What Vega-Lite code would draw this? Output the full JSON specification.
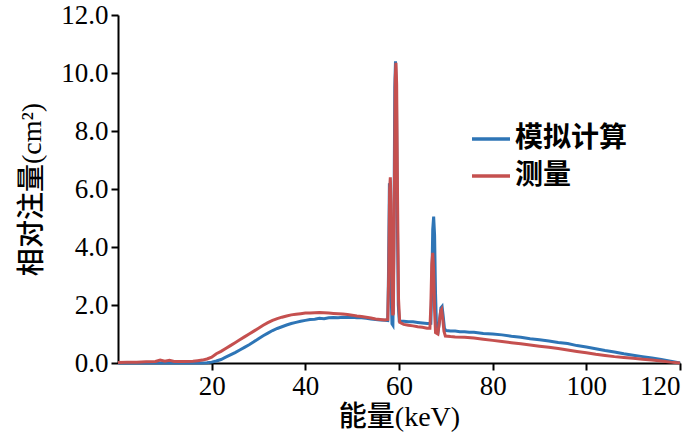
{
  "$schema": "https://vega.github.io/schema/vega-lite/v6.json",
  "width": 562,
  "height": 348,
  "autosize": "none",
  "padding": {"left": 118, "top": 15, "right": 20, "bottom": 80},
  "background": "white",
  "datasets": {
    "sim": [
      {"e": 0, "v": 0}, {"e": 5, "v": 0}, {"e": 10, "v": 0}, {"e": 15, "v": 0},
      {"e": 18, "v": 0}, {"e": 19, "v": 0.01}, {"e": 20, "v": 0.03}, {"e": 21, "v": 0.07},
      {"e": 22, "v": 0.12}, {"e": 23, "v": 0.2}, {"e": 24, "v": 0.28}, {"e": 25, "v": 0.36},
      {"e": 26, "v": 0.45}, {"e": 27, "v": 0.54}, {"e": 28, "v": 0.63}, {"e": 29, "v": 0.73},
      {"e": 30, "v": 0.84}, {"e": 31, "v": 0.94}, {"e": 32, "v": 1.03}, {"e": 33, "v": 1.12},
      {"e": 34, "v": 1.19}, {"e": 35, "v": 1.25}, {"e": 36, "v": 1.31}, {"e": 37, "v": 1.36},
      {"e": 38, "v": 1.4}, {"e": 39, "v": 1.44}, {"e": 40, "v": 1.47}, {"e": 41, "v": 1.5},
      {"e": 42, "v": 1.51}, {"e": 43, "v": 1.54}, {"e": 44, "v": 1.53}, {"e": 45, "v": 1.56},
      {"e": 46, "v": 1.57}, {"e": 47, "v": 1.56}, {"e": 48, "v": 1.58}, {"e": 49, "v": 1.57},
      {"e": 50, "v": 1.58}, {"e": 51, "v": 1.56}, {"e": 52, "v": 1.56}, {"e": 53, "v": 1.54},
      {"e": 54, "v": 1.52}, {"e": 55, "v": 1.5}, {"e": 56, "v": 1.48}, {"e": 57, "v": 1.47},
      {"e": 57.6, "v": 1.46}, {"e": 57.75, "v": 3.0}, {"e": 57.95, "v": 6.2}, {"e": 58.1, "v": 6.0},
      {"e": 58.3, "v": 2.5}, {"e": 58.5, "v": 1.35}, {"e": 58.7, "v": 1.3}, {"e": 58.9, "v": 4.0},
      {"e": 59.1, "v": 9.5}, {"e": 59.25, "v": 10.4}, {"e": 59.45, "v": 9.3}, {"e": 59.65, "v": 5.0},
      {"e": 59.85, "v": 2.0}, {"e": 60.05, "v": 1.45}, {"e": 61, "v": 1.44}, {"e": 62, "v": 1.42},
      {"e": 63, "v": 1.42}, {"e": 64, "v": 1.4}, {"e": 65, "v": 1.38}, {"e": 66, "v": 1.36},
      {"e": 66.8, "v": 1.37}, {"e": 67.0, "v": 2.6}, {"e": 67.2, "v": 4.6}, {"e": 67.4, "v": 5.05},
      {"e": 67.6, "v": 4.4}, {"e": 67.8, "v": 2.4}, {"e": 68.0, "v": 1.3}, {"e": 68.4, "v": 1.15},
      {"e": 68.7, "v": 1.5}, {"e": 68.95, "v": 1.9}, {"e": 69.2, "v": 1.95}, {"e": 69.45, "v": 1.6},
      {"e": 69.7, "v": 1.2}, {"e": 70, "v": 1.12}, {"e": 71, "v": 1.1}, {"e": 72, "v": 1.1},
      {"e": 73, "v": 1.08}, {"e": 74, "v": 1.08}, {"e": 75, "v": 1.06}, {"e": 76, "v": 1.06},
      {"e": 78, "v": 1.02}, {"e": 80, "v": 1.0}, {"e": 82, "v": 0.97}, {"e": 84, "v": 0.92},
      {"e": 86, "v": 0.89}, {"e": 88, "v": 0.84}, {"e": 90, "v": 0.8}, {"e": 92, "v": 0.76},
      {"e": 94, "v": 0.71}, {"e": 96, "v": 0.67}, {"e": 98, "v": 0.6}, {"e": 100, "v": 0.55},
      {"e": 102, "v": 0.49}, {"e": 104, "v": 0.43}, {"e": 106, "v": 0.38}, {"e": 108, "v": 0.32},
      {"e": 110, "v": 0.27}, {"e": 112, "v": 0.22}, {"e": 114, "v": 0.17}, {"e": 116, "v": 0.12},
      {"e": 118, "v": 0.06}, {"e": 120, "v": 0.0}
    ],
    "meas": [
      {"e": 0, "v": 0.02}, {"e": 2, "v": 0.03}, {"e": 4, "v": 0.03}, {"e": 6, "v": 0.04},
      {"e": 8, "v": 0.05}, {"e": 9, "v": 0.1}, {"e": 10, "v": 0.06}, {"e": 11, "v": 0.09},
      {"e": 12, "v": 0.05}, {"e": 14, "v": 0.05}, {"e": 16, "v": 0.06}, {"e": 17, "v": 0.08},
      {"e": 18, "v": 0.1}, {"e": 19, "v": 0.14}, {"e": 20, "v": 0.2}, {"e": 21, "v": 0.32},
      {"e": 22, "v": 0.4}, {"e": 23, "v": 0.5}, {"e": 24, "v": 0.6}, {"e": 25, "v": 0.7},
      {"e": 26, "v": 0.8}, {"e": 27, "v": 0.9}, {"e": 28, "v": 1.0}, {"e": 29, "v": 1.1},
      {"e": 30, "v": 1.2}, {"e": 31, "v": 1.3}, {"e": 32, "v": 1.39}, {"e": 33, "v": 1.47},
      {"e": 34, "v": 1.53}, {"e": 35, "v": 1.58}, {"e": 36, "v": 1.62}, {"e": 37, "v": 1.66},
      {"e": 38, "v": 1.68}, {"e": 39, "v": 1.7}, {"e": 40, "v": 1.72}, {"e": 41, "v": 1.72},
      {"e": 42, "v": 1.73}, {"e": 43, "v": 1.74}, {"e": 44, "v": 1.73}, {"e": 45, "v": 1.72},
      {"e": 46, "v": 1.71}, {"e": 47, "v": 1.7}, {"e": 48, "v": 1.69}, {"e": 49, "v": 1.67},
      {"e": 50, "v": 1.65}, {"e": 51, "v": 1.62}, {"e": 52, "v": 1.6}, {"e": 53, "v": 1.58},
      {"e": 54, "v": 1.55}, {"e": 55, "v": 1.52}, {"e": 56, "v": 1.5}, {"e": 57, "v": 1.48},
      {"e": 57.6, "v": 1.5}, {"e": 57.8, "v": 3.0}, {"e": 58.0, "v": 6.0}, {"e": 58.15, "v": 6.4},
      {"e": 58.3, "v": 5.5}, {"e": 58.5, "v": 2.5}, {"e": 58.65, "v": 1.65}, {"e": 58.8, "v": 1.7},
      {"e": 59.0, "v": 5.5}, {"e": 59.2, "v": 9.8}, {"e": 59.35, "v": 10.35}, {"e": 59.5, "v": 9.6},
      {"e": 59.7, "v": 5.5}, {"e": 59.9, "v": 2.2}, {"e": 60.15, "v": 1.4}, {"e": 61, "v": 1.33},
      {"e": 62, "v": 1.3}, {"e": 63, "v": 1.28}, {"e": 64, "v": 1.25}, {"e": 65, "v": 1.23},
      {"e": 66, "v": 1.2}, {"e": 66.6, "v": 1.2}, {"e": 66.8, "v": 2.0}, {"e": 67.0, "v": 3.4},
      {"e": 67.2, "v": 3.8}, {"e": 67.4, "v": 3.2}, {"e": 67.6, "v": 1.8}, {"e": 67.8, "v": 1.05},
      {"e": 68.3, "v": 1.0}, {"e": 68.6, "v": 1.4}, {"e": 68.9, "v": 1.8}, {"e": 69.1, "v": 1.85},
      {"e": 69.35, "v": 1.5}, {"e": 69.6, "v": 1.1}, {"e": 69.9, "v": 0.93}, {"e": 71, "v": 0.91},
      {"e": 72, "v": 0.9}, {"e": 74, "v": 0.89}, {"e": 76, "v": 0.86}, {"e": 78, "v": 0.82},
      {"e": 80, "v": 0.78}, {"e": 82, "v": 0.74}, {"e": 84, "v": 0.7}, {"e": 86, "v": 0.66},
      {"e": 88, "v": 0.62}, {"e": 90, "v": 0.58}, {"e": 92, "v": 0.54}, {"e": 94, "v": 0.5},
      {"e": 96, "v": 0.45}, {"e": 98, "v": 0.4}, {"e": 100, "v": 0.35}, {"e": 102, "v": 0.3},
      {"e": 104, "v": 0.26}, {"e": 106, "v": 0.22}, {"e": 108, "v": 0.19}, {"e": 110, "v": 0.16},
      {"e": 112, "v": 0.13}, {"e": 114, "v": 0.1}, {"e": 116, "v": 0.07}, {"e": 118, "v": 0.03},
      {"e": 120, "v": 0.0}
    ]
  },
  "encoding": {
    "x": {
      "field": "e",
      "type": "quantitative",
      "scale": {"domain": [0, 120], "nice": false},
      "axis": {
        "values": [20, 40, 60, 80, 100, 120],
        "title": "能量(keV)",
        "titlePadding": 4
      }
    },
    "y": {
      "field": "v",
      "type": "quantitative",
      "scale": {"domain": [0, 12], "nice": false},
      "axis": {
        "values": [0, 2, 4, 6, 8, 10, 12],
        "format": ".1f",
        "title": "相对注量(cm²)",
        "titlePadding": 14
      }
    }
  },
  "layer": [
    {
      "data": {"name": "sim"},
      "mark": {"type": "line", "strokeWidth": 3},
      "encoding": {
        "color": {
          "datum": "模拟计算",
          "scale": {"domain": ["模拟计算", "测量"], "range": ["#2e75b6", "#c5504f"]},
          "legend": {
            "orient": "none",
            "legendX": 352,
            "legendY": 103,
            "title": null,
            "symbolType": "stroke",
            "symbolSize": 1444,
            "symbolStrokeWidth": 3.5,
            "labelFont": "Noto Sans CJK SC",
            "labelFontSize": 28,
            "labelFontWeight": "bold",
            "labelColor": "black",
            "labelOffset": 3,
            "rowPadding": 2,
            "padding": 0
          }
        }
      }
    },
    {
      "data": {"name": "meas"},
      "mark": {"type": "line", "strokeWidth": 3},
      "encoding": {"color": {"datum": "测量"}}
    }
  ],
  "config": {
    "view": {"stroke": null},
    "style": {"guide-label": {"font": "Liberation Serif"}},
    "axis": {
      "grid": false,
      "domainColor": "black",
      "domainWidth": 2,
      "tickColor": "black",
      "tickWidth": 2,
      "tickSize": 7,
      "labelFont": "Liberation Serif",
      "labelFontSize": 27,
      "labelColor": "black",
      "labelPadding": 3,
      "titleFont": "Liberation Serif, Noto Sans CJK SC",
      "titleFontSize": 28,
      "titleFontWeight": 500,
      "titleColor": "black"
    }
  }
}
